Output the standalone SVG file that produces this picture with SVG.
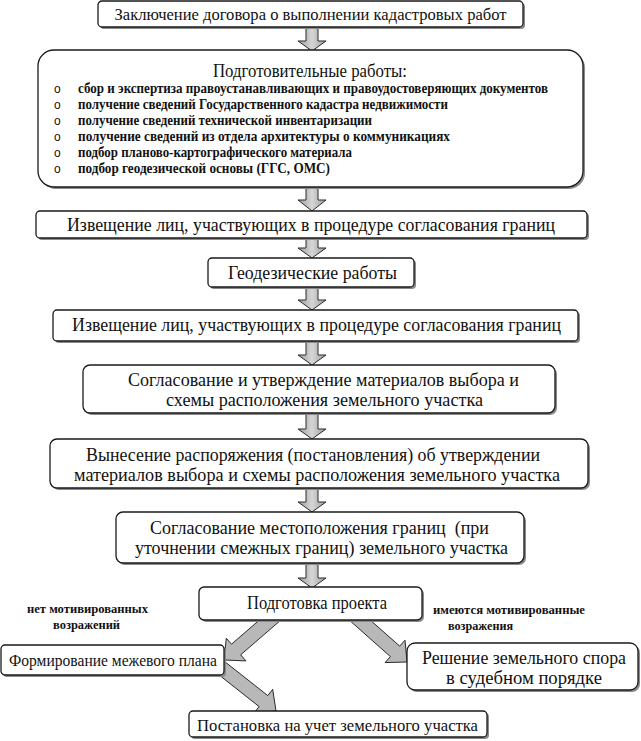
<svg xmlns="http://www.w3.org/2000/svg" width="641" height="741" viewBox="0 0 641 741">
<defs>
<linearGradient id="gv" x1="0" y1="0" x2="1" y2="0">
<stop offset="0" stop-color="#9c9c9c"/><stop offset="0.5" stop-color="#d6d6d6"/><stop offset="1" stop-color="#9c9c9c"/>
</linearGradient>
<style>
.box{fill:#fff;stroke:#1a1a1a;stroke-width:1.3}
.sh{fill:#8a8a8a;stroke:none}
.av{fill:url(#gv);stroke:#2a2a2a;stroke-width:1}
.ad{fill:#b8b8b8;stroke:#2a2a2a;stroke-width:1}
text{font-family:"Liberation Serif","Times New Roman",serif;fill:#111}
.t{font-size:18px;text-anchor:middle}
.tm{font-size:17px;text-anchor:middle}
.tl{font-size:19px;text-anchor:middle}
.it{font-size:14px;font-weight:bold}
.bl{font-family:"Liberation Sans",sans-serif;font-size:12px}
.lb{font-size:13.5px;font-weight:bold;text-anchor:middle}
</style>
</defs>
<rect width="641" height="741" fill="#fff"/>
<g id="connectors">
<polygon class="av" points="306,27 318,27 318,41 326,41 312,51 298,41 306,41"/>
<polygon class="av" points="306,187 318,187 318,200 326,200 312,211 298,200 306,200"/>
<polygon class="av" points="306,238 318,238 318,248 326,248 312,258 298,248 306,248"/>
<polygon class="av" points="306,287 318,287 318,300 326,300 312,310 298,300 306,300"/>
<polygon class="av" points="306,341 318,341 318,355 326,355 312,365 298,355 306,355"/>
<polygon class="av" points="306,413 318,413 318,429 326,429 312,439 298,429 306,429"/>
<polygon class="av" points="306,488 318,488 318,502 326,502 312,512 298,502 306,502"/>
<polygon class="av" points="306,563 318,563 318,578 326,578 312,588 298,578 306,578"/>
<polygon class="ad" points="280.6,620.3 240.7,654.8 245.9,660.9 224,660 226.3,638.2 231.5,644.2 271.4,609.7"/>
<polygon class="ad" points="349.4,620.2 390.4,656.6 385.1,662.6 407,662 405,640.2 399.7,646.1 358.6,609.8"/>
<polygon class="ad" points="214.7,671.5 259.1,706.6 254.1,712.9 276,711 272.7,689.3 267.8,695.6 223.3,660.5"/>
</g>
<g id="n1">
<rect class="sh" x="100" y="3" width="425" height="26" rx="4"/>
<rect class="box" x="98" y="1" width="425" height="26" rx="4"/>
<text class="tm" x="310.5" y="20" textLength="392" lengthAdjust="spacingAndGlyphs">Заключение договора о выполнении кадастровых работ</text>
</g>
<g id="n2">
<rect class="sh" x="40" y="52" width="545" height="137" rx="16"/>
<rect class="box" x="38" y="50" width="545" height="137" rx="16"/>
<text class="t" x="310" y="77" textLength="194" lengthAdjust="spacingAndGlyphs">Подготовительные работы:</text>
<text class="bl" x="54" y="92.5">o</text>
<text class="bl" x="54" y="108.5">o</text>
<text class="bl" x="54" y="124.5">o</text>
<text class="bl" x="54" y="140.5">o</text>
<text class="bl" x="54" y="156.5">o</text>
<text class="bl" x="54" y="172.5">o</text>
<text class="it" x="78" y="92.5" textLength="470" lengthAdjust="spacingAndGlyphs">сбор и экспертиза правоустанавливающих и правоудостоверяющих документов</text>
<text class="it" x="78" y="108.5" textLength="370" lengthAdjust="spacingAndGlyphs">получение сведений Государственного кадастра недвижимости</text>
<text class="it" x="78" y="124.5" textLength="294" lengthAdjust="spacingAndGlyphs">получение сведений технической инвентаризации</text>
<text class="it" x="78" y="140.5" textLength="372" lengthAdjust="spacingAndGlyphs">получение сведений из отдела архитектуры о коммуникациях</text>
<text class="it" x="78" y="156.5" textLength="274" lengthAdjust="spacingAndGlyphs">подбор планово-картографического материала</text>
<text class="it" x="78" y="172.5" textLength="252" lengthAdjust="spacingAndGlyphs">подбор геодезической основы (ГГС, ОМС)</text>
</g>
<g id="n3">
<rect class="sh" x="38" y="213" width="551" height="27" rx="4"/>
<rect class="box" x="36" y="211" width="551" height="27" rx="4"/>
<text class="t" x="311" y="231" textLength="488" lengthAdjust="spacingAndGlyphs">Извещение лиц, участвующих в процедуре согласования границ</text>
</g>
<g id="n4">
<rect class="sh" x="210" y="260" width="206" height="29" rx="4"/>
<rect class="box" x="208" y="258" width="206" height="29" rx="4"/>
<text class="t" x="312.5" y="279" textLength="169" lengthAdjust="spacingAndGlyphs">Геодезические работы</text>
</g>
<g id="n5">
<rect class="sh" x="55" y="312" width="525" height="31" rx="4"/>
<rect class="box" x="53" y="310" width="525" height="31" rx="4"/>
<text class="t" x="316.5" y="331" textLength="489" lengthAdjust="spacingAndGlyphs">Извещение лиц, участвующих в процедуре согласования границ</text>
</g>
<g id="n6">
<rect class="sh" x="85" y="367" width="472" height="48" rx="7"/>
<rect class="box" x="83" y="365" width="472" height="48" rx="7"/>
<text class="t" x="323.5" y="386" textLength="391" lengthAdjust="spacingAndGlyphs">Согласование и утверждение материалов выбора и</text>
<text class="t" x="324.5" y="406" textLength="317" lengthAdjust="spacingAndGlyphs">схемы расположения земельного участка</text>
</g>
<g id="n7">
<rect class="sh" x="52" y="441" width="538" height="49" rx="7"/>
<rect class="box" x="50" y="439" width="538" height="49" rx="7"/>
<text class="t" x="313" y="461" textLength="454" lengthAdjust="spacingAndGlyphs">Вынесение распоряжения (постановления) об утверждении</text>
<text class="t" x="317" y="481" textLength="486" lengthAdjust="spacingAndGlyphs">материалов выбора и схемы расположения земельного участка</text>
</g>
<g id="n8">
<rect class="sh" x="118" y="514" width="408" height="51" rx="7"/>
<rect class="box" x="116" y="512" width="408" height="51" rx="7"/>
<text class="t" x="319.5" y="534" textLength="339" lengthAdjust="spacingAndGlyphs" xml:space="preserve">Согласование местоположения границ  (при</text>
<text class="t" x="321.5" y="554" textLength="373" lengthAdjust="spacingAndGlyphs">уточнении смежных границ) земельного участка</text>
</g>
<g id="n9">
<rect class="sh" x="201" y="589" width="223" height="33" rx="5"/>
<rect class="box" x="199" y="587" width="223" height="33" rx="5"/>
<text class="t" x="317" y="609" textLength="140" lengthAdjust="spacingAndGlyphs">Подготовка проекта</text>
</g>
<g id="label-left">
<text class="lb" x="87.5" y="613" textLength="121" lengthAdjust="spacingAndGlyphs">нет мотивированных</text>
<text class="lb" x="86.5" y="629" textLength="67" lengthAdjust="spacingAndGlyphs">возражений</text>
</g>
<g id="label-right">
<text class="lb" x="509" y="614" textLength="152" lengthAdjust="spacingAndGlyphs">имеются мотивированные</text>
<text class="lb" x="480.5" y="630" textLength="65" lengthAdjust="spacingAndGlyphs">возражения</text>
</g>
<g id="n10">
<rect class="sh" x="3" y="647" width="223" height="30" rx="4"/>
<rect class="box" x="1" y="645" width="223" height="30" rx="4"/>
<text class="tm" x="113" y="666" textLength="208" lengthAdjust="spacingAndGlyphs">Формирование межевого плана</text>
</g>
<g id="n11">
<rect class="sh" x="409" y="645" width="231" height="47" rx="8"/>
<rect class="box" x="407" y="643" width="231" height="47" rx="8"/>
<text class="tl" x="524" y="664" textLength="204" lengthAdjust="spacingAndGlyphs">Решение земельного спора</text>
<text class="tl" x="524" y="684" textLength="156" lengthAdjust="spacingAndGlyphs">в судебном порядке</text>
</g>
<g id="n12">
<rect class="sh" x="191" y="713" width="298" height="26" rx="4"/>
<rect class="box" x="189" y="711" width="298" height="26" rx="4"/>
<text class="tm" x="337.5" y="731" textLength="281" lengthAdjust="spacingAndGlyphs">Постановка на учет земельного участка</text>
</g>
</svg>
